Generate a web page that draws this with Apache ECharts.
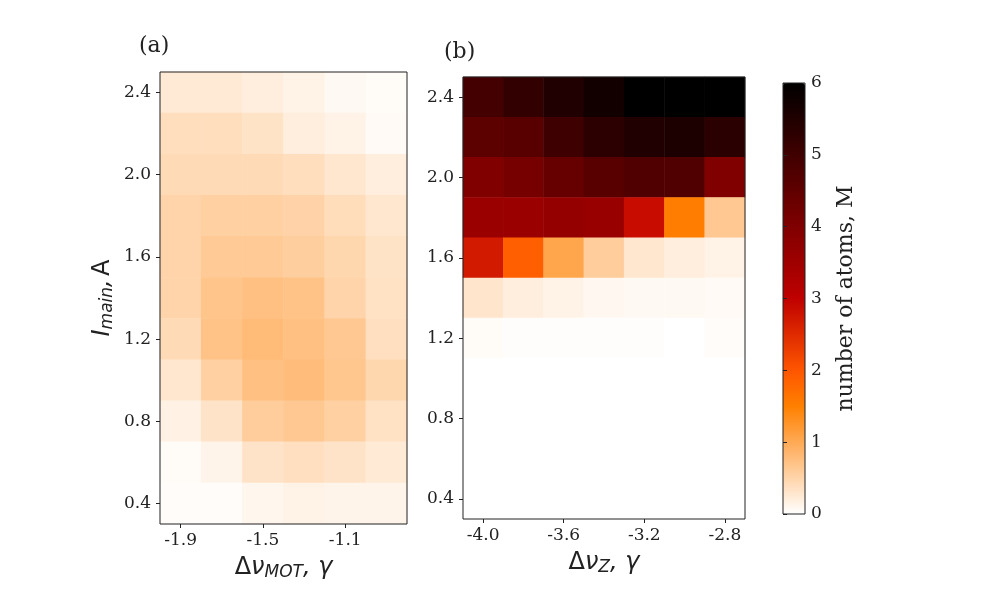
<!DOCTYPE html>
<html>
<head>
<meta charset="utf-8">
<title>heatmap</title>
<script src="https://cdn.jsdelivr.net/npm/echarts@6/dist/echarts.min.js"></script>
<style>
  html, body { margin: 0; padding: 0; background: #fff; }
  #main { width: 1000px; height: 600px; }
</style>
</head>
<body>
<div id="main"></div>
<script>
// axis categories
var leftX = ['-1.9', '-1.7', '-1.5', '-1.3', '-1.1', '-0.9'];
var rightX = ['-4.0', '-3.8', '-3.6', '-3.4', '-3.2', '-3.0', '-2.8'];
var yRows = ['0.4', '0.6', '0.8', '1.0', '1.2', '1.4', '1.6', '1.8', '2.0', '2.2', '2.4'];
var cbTicks = [0, 6];

// values, rows from top (2.4) to bottom (0.4)
var leftVals = [
    [0.25, 0.25, 0.20, 0.15, 0.07, 0.05],
    [0.38, 0.38, 0.33, 0.20, 0.15, 0.06],
    [0.43, 0.43, 0.43, 0.38, 0.29, 0.20],
    [0.50, 0.55, 0.55, 0.52, 0.40, 0.28],
    [0.50, 0.62, 0.62, 0.57, 0.47, 0.33],
    [0.50, 0.68, 0.74, 0.70, 0.50, 0.35],
    [0.43, 0.70, 0.80, 0.74, 0.65, 0.37],
    [0.28, 0.55, 0.74, 0.78, 0.67, 0.47],
    [0.16, 0.32, 0.58, 0.65, 0.55, 0.35],
    [0.05, 0.13, 0.32, 0.37, 0.32, 0.24],
    [0.03, 0.03, 0.10, 0.15, 0.13, 0.13]
];
var rightVals = [
    [4.93, 5.20, 5.50, 5.72, 6.00, 6.00, 6.00],
    [4.55, 4.62, 5.03, 5.30, 5.50, 5.56, 5.34],
    [4.00, 4.15, 4.40, 4.62, 4.75, 4.75, 4.00],
    [3.57, 3.57, 3.68, 3.62, 2.86, 1.53, 0.65],
    [2.70, 1.88, 1.05, 0.59, 0.28, 0.20, 0.14],
    [0.30, 0.20, 0.14, 0.09, 0.07, 0.07, 0.06],
    [0.04, 0.02, 0.02, 0.02, 0.02, 0.00, 0.03],
    [0, 0, 0, 0, 0, 0, 0],
    [0, 0, 0, 0, 0, 0, 0],
    [0, 0, 0, 0, 0, 0, 0],
    [0, 0, 0, 0, 0, 0, 0]
];

// [x, y, v] for heatmap
function toCells(rows) {
    var out = [];
    var n = rows.length;
    for (var r = 0; r < n; r++) {
        for (var c = 0; c < rows[r].length; c++) {
            out.push([c, n - 1 - r, rows[r][c]]);
        }
    }
    return out;
}

var serif = 'DejaVu Serif';
var sans = 'DejaVu Sans';
var ink = '#222';

// gist_heat reversed
var heatColors = ['#ffffff', '#ffd4aa', '#ffaa55', '#ff8000', '#ff5500', '#df2b00', '#bf0000',
    '#9f0000', '#800000', '#600000', '#400000', '#200000', '#000000'];

var nameRich = {
    up: { fontFamily: sans, fontSize: 24, color: ink },
    it: { fontFamily: sans, fontSize: 24, fontStyle: 'italic', color: ink },
    sub: { fontFamily: sans, fontSize: 17, fontStyle: 'italic', color: ink, padding: [10, 0, 0, 0] }
};

function catX(idx, data, name) {
    return {
        type: 'category', gridIndex: idx, data: data,
        name: name, nameLocation: 'middle', nameGap: 30,
        nameTextStyle: { rich: nameRich },
        axisLine: { show: false },
        axisTick: { show: true, alignWithLabel: true, interval: 1, length: 4, lineStyle: { color: ink } },
        axisLabel: { interval: 1, fontFamily: serif, fontSize: 17, color: ink, margin: 8 },
        splitLine: { show: false }, z: 5
    };
}

function catY(idx, name) {
    return {
        type: 'category', gridIndex: idx, data: yRows,
        name: name, nameLocation: 'middle', nameGap: 44, nameRotate: 90,
        nameTextStyle: { rich: nameRich },
        axisLine: { show: false },
        axisTick: { show: true, alignWithLabel: true, interval: 1, length: 4, lineStyle: { color: ink } },
        axisLabel: { interval: 1, fontFamily: serif, fontSize: 17, color: ink, margin: 9 },
        splitLine: { show: false }, z: 5
    };
}

var chart = echarts.init(document.getElementById('main'));
var option = {
    backgroundColor: '#fff',
    animation: false,
    title: [
        { text: '(a)', left: 134, top: 30, textStyle: { fontFamily: serif, fontSize: 22, fontWeight: 'normal', color: ink } },
        { text: '(b)', left: 439, top: 36, textStyle: { fontFamily: serif, fontSize: 22, fontWeight: 'normal', color: ink } }
    ],
    grid: [
        { left: 160, top: 72, width: 247, height: 452, show: true, backgroundColor: 'transparent', borderColor: ink, borderWidth: 1, z: 5 },
        { left: 463, top: 77, width: 282, height: 442, show: true, backgroundColor: 'transparent', borderColor: ink, borderWidth: 1, z: 5 },
        { left: 783, top: 83, width: 22, height: 431, show: true, backgroundColor: 'transparent', borderColor: ink, borderWidth: 1, z: 10 }
    ],
    xAxis: [
        catX(0, leftX, '{up|Δ}{it|ν}{sub|MOT}{it|, γ}'),
        catX(1, rightX, '{up|Δ}{it|ν}{sub|Z}{it|, γ}'),
        { type: 'value', gridIndex: 2, min: 0, max: 1, show: false }
    ],
    yAxis: [
        catY(0, '{it|I}{sub|main}{it|,} {up|A}'),
        catY(1, ''),
        {
            type: 'value', gridIndex: 2, position: 'right', min: cbTicks[0], max: cbTicks[1], interval: 1,
            name: 'number of atoms, M', nameLocation: 'middle', nameGap: 30, nameRotate: 90,
            nameTextStyle: { fontFamily: serif, fontSize: 22, color: ink },
            axisLine: { show: false },
            axisTick: { show: true, length: 4, lineStyle: { color: ink } },
            axisLabel: { fontFamily: serif, fontSize: 17, color: ink, margin: 6 },
            splitLine: { show: false }, z: 10
        }
    ],
    visualMap: {
        type: 'continuous', min: 0, max: 6, seriesIndex: [0, 1],
        calculable: false, hoverLink: false, show: true, left: 783, top: 83, padding: 0,
        itemWidth: 22, itemHeight: 431, text: null,
        inRange: { color: heatColors }
    },
    series: [
        { type: 'heatmap', xAxisIndex: 0, yAxisIndex: 0, data: toCells(leftVals), itemStyle: { borderWidth: 0 } },
        { type: 'heatmap', xAxisIndex: 1, yAxisIndex: 1, data: toCells(rightVals), itemStyle: { borderWidth: 0 } }
    ]
};
chart.setOption(option);
</script>
</body>
</html>
